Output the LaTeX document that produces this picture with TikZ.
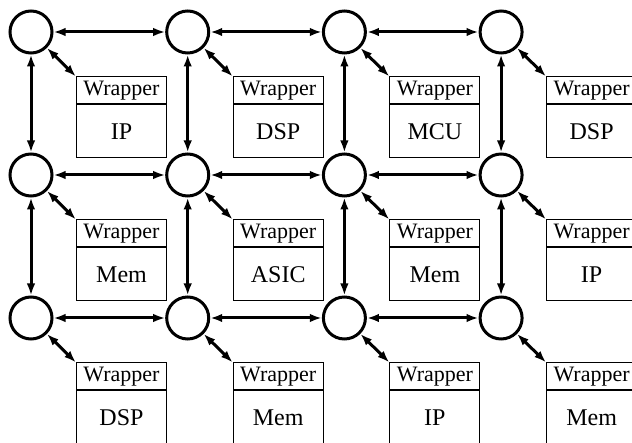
\documentclass[tikz,border=0pt]{standalone}
\usepackage{fontspec}
\setmainfont{Liberation Serif}
\usetikzlibrary{arrows.meta}
\tikzset{
  router/.style={circle, draw, line width=3pt, minimum size=42pt, inner sep=0pt},
  wrap/.style={draw, line width=1pt, minimum width=90pt, minimum height=27pt, inner sep=0pt, anchor=north west, font=\fontsize{22}{22}\selectfont},
  core/.style={draw, line width=1pt, minimum width=90pt, minimum height=53pt, inner sep=0pt, anchor=north, font=\fontsize{24}{24}\selectfont},
  link/.style={line width=3pt, {Latex[length=12pt,width=8.5pt]}-{Latex[length=12pt,width=8.5pt]}},
}
\begin{document}
\begin{tikzpicture}[x=1pt,y=-1pt]
\useasboundingbox (0,0) rectangle (632,443);
% routers
\foreach \c/\x in {1/31,2/187.7,3/344.4,4/501.1}{
  \foreach \r/\y in {1/32,2/175,3/318}{
    \node[router] (c\r\c) at (\x,\y) {};
  }
}
% tiles
\foreach \r/\c/\lab in {1/1/IP,1/2/DSP,1/3/MCU,1/4/DSP,
                        2/1/Mem,2/2/ASIC,2/3/Mem,2/4/IP,
                        3/1/DSP,3/2/Mem,3/3/IP,3/4/Mem}{
  \node[wrap] (w\r\c) at ([shift={(45,44.5)}]c\r\c.center) {Wrapper};
  \node[core] (p\r\c) at (w\r\c.south) {\lab};
  \draw[link] (c\r\c.-45) -- (w\r\c.north west);
}
% horizontal links
\foreach \r in {1,2,3}{
  \draw[link] (c\r1) -- (c\r2);
  \draw[link] (c\r2) -- (c\r3);
  \draw[link] (c\r3) -- (c\r4);
}
% vertical links
\foreach \c in {1,2,3,4}{
  \draw[link] (c1\c) -- (c2\c);
  \draw[link] (c2\c) -- (c3\c);
}
\end{tikzpicture}
\end{document}
